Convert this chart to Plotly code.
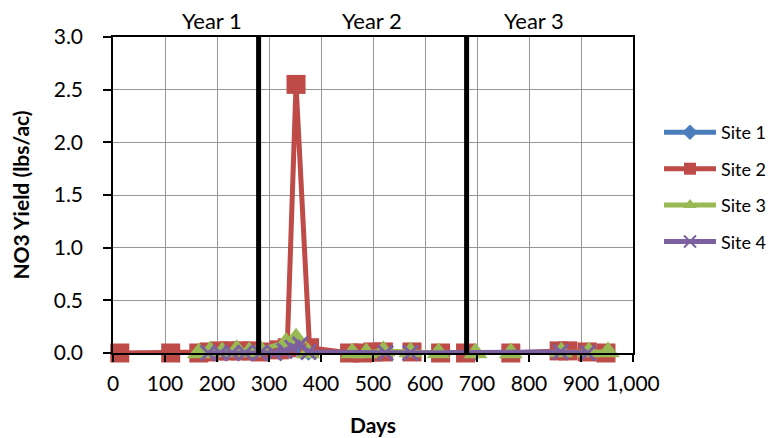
import plotly.graph_objects as go

# ---- data ----
site1_days = [183, 206, 229, 254, 283, 320, 340, 360, 376, 460, 487, 520, 572, 626, 697, 765, 862, 915]
site1_vals = [0.0, 0.0, 0.0, 0.0, 0.0, 0.01, 0.02, 0.02, 0.0, 0.0, 0.0, 0.0, 0.0, 0.0, 0.0, 0.0, 0.0, 0.0]

site2_days = [13, 111, 165, 185, 205, 225, 245, 265, 283, 320, 335, 352, 378, 455, 480, 500, 520, 575, 630, 678, 765, 858, 875, 912, 948]
site2_vals = [0.0, 0.0, 0.0, 0.01, 0.02, 0.02, 0.02, 0.02, 0.01, 0.03, 0.05, 2.55, 0.05, 0.0, 0.0, 0.01, 0.01, 0.01, 0.0, 0.0, 0.0, 0.02, 0.02, 0.01, 0.0]

site3_days = [165, 187, 210, 238, 262, 283, 333, 352, 375, 460, 487, 520, 572, 626, 697, 765, 862, 915, 952]
site3_vals = [0.0, 0.02, 0.01, 0.03, 0.01, 0.03, 0.10, 0.14, 0.0, 0.0, 0.0, 0.02, 0.01, 0.0, 0.0, 0.0, 0.01, 0.01, 0.01]

site4_days = [183, 206, 229, 254, 283, 310, 330, 345, 360, 376, 524, 572, 861, 913]
site4_vals = [0.0, 0.0, 0.0, 0.0, 0.0, 0.0, 0.02, 0.05, 0.08, 0.01, 0.0, 0.0, 0.01, 0.0]

year_bounds = [280, 680]
year_labels = ["Year 1", "Year 2", "Year 3"]
year_label_days = [191, 499, 809]

FONT = "Lato"

fig = go.Figure()

series = [
    ("Site 1", site1_days, site1_vals, "#4A7EBB", dict(symbol="diamond", size=12, color="#4A7EBB")),
    ("Site 2", site2_days, site2_vals, "#BE4B48", dict(symbol="square", size=19, color="#BE4B48")),
    ("Site 3", site3_days, site3_vals, "#98B954", dict(symbol="triangle-up", size=21, color="#98B954")),
    ("Site 4", site4_days, site4_vals, "#7D60A0", dict(symbol="x-thin", size=15, color="#7D60A0",
                                                      line=dict(color="#7D60A0", width=3))),
]
for i, (name, xs, ys, col, mk) in enumerate(series):
    fig.add_trace(go.Scatter(
        x=xs, y=ys, name=name, mode="lines+markers",
        line=dict(color=col, width=5),
        marker=mk, cliponaxis=False, legendgroup=name,
    ))

for d in year_bounds:
    fig.add_shape(type="line", xref="x", yref="y", x0=d, x1=d, y0=0, y1=3,
                  line=dict(color="black", width=5), layer="above")

for t, d in zip(year_labels, year_label_days):
    fig.add_annotation(x=d, xref="x", y=1, yref="paper", yanchor="bottom", yshift=1,
                       text=t, showarrow=False, font=dict(family=FONT, size=22, color="black"))

fig.update_layout(
    width=771, height=438,
    margin=dict(l=113, r=138, t=37, b=85, autoexpand=False),
    paper_bgcolor="white", plot_bgcolor="white",
    font=dict(family=FONT, size=21, color="black"),
    showlegend=True,
    legend=dict(x=1.05, y=0.525, xanchor="left", yanchor="middle",
                font=dict(family=FONT, size=18, color="black"),
                itemsizing="constant", itemwidth=52, tracegroupgap=10, traceorder="grouped",
                bgcolor="rgba(0,0,0,0)"),
)
fig.update_xaxes(range=[0, 1000], dtick=100, tick0=0, tickformat=",",
                 showgrid=True, gridcolor="#969696", gridwidth=1.3,
                 showline=True, linecolor="black", linewidth=1.5, mirror=True,
                 ticks="outside", ticklen=7, tickcolor="black", tickwidth=1.5,
                 zeroline=False, ticklabelstandoff=4, automargin=False,
                 title=dict(text="<b>Days</b>", font=dict(family=FONT, size=21), standoff=24))
fig.update_yaxes(range=[0, 3], dtick=0.5, tick0=0, tickformat=".1f",
                 showgrid=True, gridcolor="#969696", gridwidth=1.3,
                 showline=True, linecolor="black", linewidth=1.5, mirror=True,
                 ticks="outside", ticklen=8, tickcolor="black", tickwidth=1.5,
                 zeroline=False, ticklabelstandoff=16, automargin=False,
                 title=dict(text="<b>NO3 Yield (lbs/ac)</b>", font=dict(family=FONT, size=21), standoff=18))

fig.write_html("out.html")
